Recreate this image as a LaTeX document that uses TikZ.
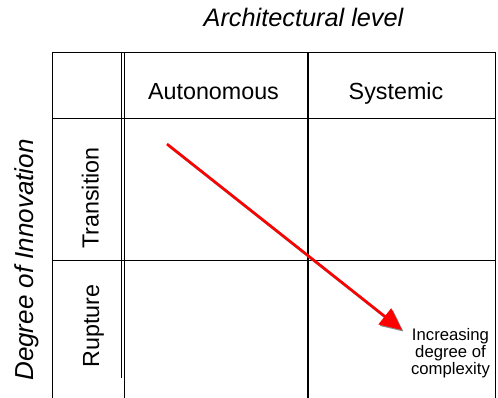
\documentclass[tikz,border=0pt]{standalone}
\usepackage{fontspec}
\setmainfont{Liberation Sans}
\usetikzlibrary{arrows.meta,calc}
\begin{document}
\begin{tikzpicture}[x=1pt,y=-1pt,
  grid/.style={line width=1.5pt,black},
  thin grid/.style={line width=1.2pt,black},
  head/.style={font=\fontsize{23.3}{27}\selectfont,inner sep=0pt,anchor=base},
  axis/.style={font=\fontsize{25.3}{29}\selectfont\itshape,inner sep=0pt,anchor=base},
  note/.style={font=\fontsize{16.7}{17}\selectfont,inner sep=0pt,align=center},
  trend/.style={line width=2.6pt,red,-{Triangle[length=22pt,width=20pt]}},
  trendshadow/.style={line width=2.6pt,black!45,-{Triangle[length=22pt,width=20pt]}}]
\useasboundingbox (0,0) rectangle (498,398);
% grid
\draw[grid] (52.5,398) -- (52.5,52.5) -- (495.5,52.5) -- (495.5,398);
\draw[grid] (52.5,118.5) -- (495.5,118.5);
\draw[grid] (52.5,260.5) -- (495.5,260.5);
\draw[grid] (308,52.5) -- (308,398);
\draw[thin grid] (121.3,52.5) -- (121.3,378);
\draw[thin grid] (124.3,52.5) -- (124.3,398);
% labels
\node[axis] (arch) at (303.5,27) {Architectural level};
\node[axis,rotate=90,font=\fontsize{26}{30}\selectfont\itshape] (innov) at (33.5,260) {Degree of Innovation};
\node[head] (auto) at (213.5,100) {Autonomous};
\node[head] (sys) at (396,100) {Systemic};
\node[head,rotate=90] (trans) at (98.5,198) {Transition};
\node[head,rotate=90] (rupt) at (99,326) {Rupture};
\node[note] (compl) at (450.5,353) {Increasing\\degree of\\complexity};
% arrow
\coordinate (s) at (167,144);
\coordinate (t) at (402,330);
\draw[trendshadow] ($(s)+(1.5,1.5)$) -- ($(t)+(1.5,1.5)$);
\draw[trend] (s) -- (t);
\end{tikzpicture}
\end{document}
